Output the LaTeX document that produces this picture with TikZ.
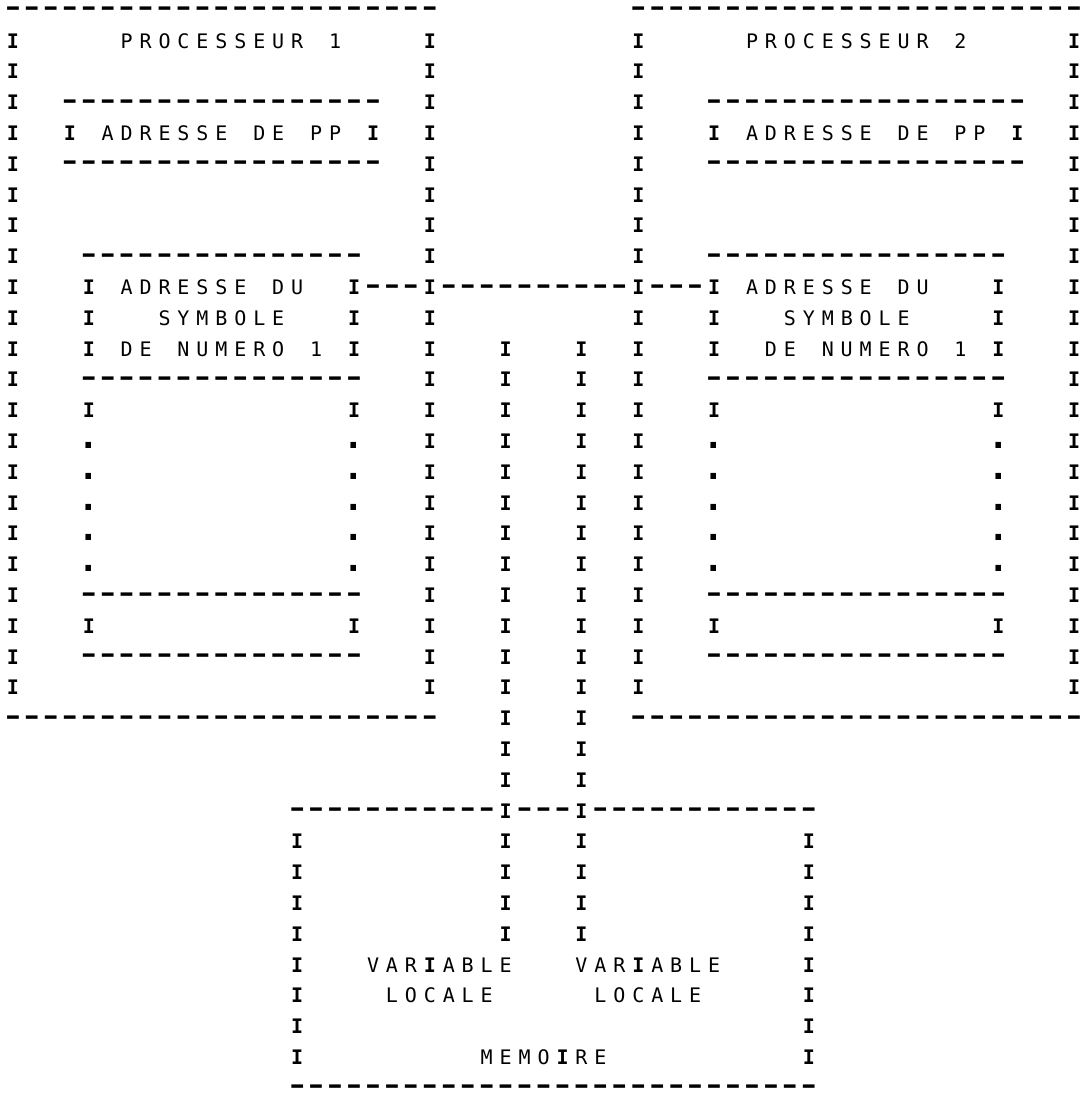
\documentclass[tikz,border=0pt]{standalone}
\usepackage{fontspec}
\usepackage{graphicx}
\setmonofont{DejaVu Sans Mono}
\newcounter{segno}
\newcommand\cellbox[1]{\hbox to 9.475pt{\hss#1\hss}}
\def\cellchar#1{%
  \ifx#1_\cellbox{}%
  \else\ifx#1-\cellbox{\raisebox{0.07em}{\scalebox{1.9}[1.2]{\bfseries-}}}%
  \else\ifx#1.\cellbox{\scalebox{1.7}{\bfseries.}}%
  \else\ifx#1I\cellbox{\bfseries I}%
  \else\cellbox{#1}%
  \fi\fi\fi\fi}
\def\cellsloop#1{\ifx#1\relax\else\cellchar#1\expandafter\cellsloop\fi}
\tikzset{txt/.style={anchor=base west,inner sep=0pt,outer sep=0pt,
  font=\ttfamily\fontsize{10}{12}\selectfont}}
\newcommand\putseg[3]{\stepcounter{segno}%
  \node[txt,name=s\arabic{segno}] at ({3.5+18.95*#1},{17.3+30.8*#2}) {\cellsloop#3\relax};}
\newcommand\putdashes[3]{\stepcounter{segno}%
  \node[txt,name=s\arabic{segno}] at ({3.5+18.95*#1},{17.3+30.8*#2}) {\foreach \k in {1,...,#3}{\cellchar-}};}
\newcommand\putcol[2]{\foreach \rr in {#2}{\putseg{#1}{\rr}{I}}}
\newcommand\putdots[2]{\foreach \rr in {#2}{\putseg{#1}{\rr}{.}}}
\begin{document}
\begin{tikzpicture}[x=0.5pt,y=-0.5pt]
\fill[white] (0,0) rectangle (1084,1102);
\useasboundingbox (0,0) rectangle (1084,1102);
% ---- outer frames of the two processors
\putdashes{0}{0}{23}
\putdashes{33}{0}{24}
\putdashes{0}{23}{23}
\putdashes{33}{23}{24}
\putcol{0}{1,...,22}
\putcol{22}{1,...,22}
\putcol{33}{1,...,22}
\putcol{56}{1,...,22}
% ---- titles
\putseg{6}{1}{PROCESSEUR_1}
\putseg{39}{1}{PROCESSEUR_2}
% ---- ADRESSE DE PP boxes
\putdashes{3}{3}{17}
\putdashes{3}{5}{17}
\putdashes{37}{3}{17}
\putdashes{37}{5}{17}
\putcol{3}{4}
\putcol{19}{4}
\putcol{37}{4}
\putcol{53}{4}
\putseg{5}{4}{ADRESSE_DE_PP}
\putseg{39}{4}{ADRESSE_DE_PP}
% ---- symbol tables
\foreach \rw in {8,12,19,21}{\putdashes{4}{\rw}{15}\putdashes{37}{\rw}{16}}
\putcol{4}{9,10,11,13,20}
\putcol{18}{9,10,11,13,20}
\putcol{37}{9,10,11,13,20}
\putcol{52}{9,10,11,13,20}
\putdots{4}{14,...,18}
\putdots{18}{14,...,18}
\putdots{37}{14,...,18}
\putdots{52}{14,...,18}
\putseg{6}{9}{ADRESSE_DU}
\putseg{39}{9}{ADRESSE_DU}
\putseg{8}{10}{SYMBOLE}
\putseg{41}{10}{SYMBOLE}
\putseg{6}{11}{DE_NUMERO_1}
\putseg{40}{11}{DE_NUMERO_1}
% ---- link between the two tables
\putdashes{19}{9}{3}
\putdashes{23}{9}{10}
\putdashes{34}{9}{3}
% ---- links to memory
\putcol{26}{11,...,30}
\putcol{30}{11,...,30}
% ---- memory
\putdashes{15}{26}{11}
\putdashes{27}{26}{3}
\putdashes{31}{26}{12}
\putcol{15}{27,...,34}
\putcol{42}{27,...,34}
\putdashes{15}{35}{28}
\putseg{19}{31}{VARIABLE}
\putseg{30}{31}{VARIABLE}
\putseg{20}{32}{LOCALE}
\putseg{31}{32}{LOCALE}
\putseg{25}{34}{MEMOIRE}
\end{tikzpicture}
\end{document}
